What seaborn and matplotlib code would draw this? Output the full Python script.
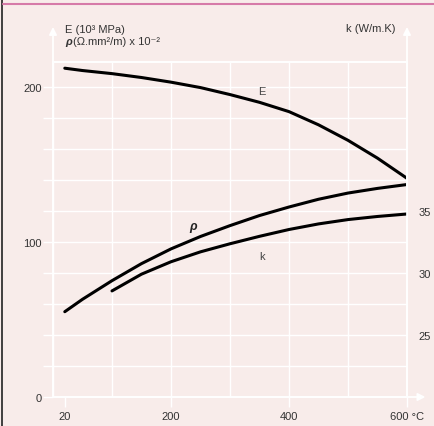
import matplotlib
matplotlib.use('Agg')
import matplotlib.pyplot as plt
from matplotlib.lines import Line2D
import seaborn as sns
import pandas as pd

# values
temps_E = [20, 50, 100, 150, 200, 250, 300, 350, 400, 450, 500, 550, 600]
E_vals = [212, 210.5, 208.5, 206, 203, 199.5, 195, 190, 184, 175.5, 165.5, 154, 141]

temps_rho = [20, 50, 100, 150, 200, 250, 300, 350, 400, 450, 500, 550, 600]
rho_vals = [55, 63, 75, 86, 95.5, 103.5, 110.5, 117, 122.5, 127.5, 131.5, 134.5, 137]

temps_k = [100, 150, 200, 250, 300, 350, 400, 450, 500, 550, 600]
k_vals = [28.55, 29.9, 30.9, 31.7, 32.35, 32.95, 33.5, 33.95, 34.3, 34.55, 34.75]

x_grid = [0, 100, 200, 300, 400, 500, 600]
x_ticks = [20, 200, 400, 600]
x_labels = ['20', '200', '400', '600 °C']
y_grid = list(range(0, 201, 20))
y_labels = {0: '0', 100: '100', 200: '200'}
k_ticks = [25, 30, 35]

bg = '#f8ecea'
txt = '#333333'
sns.set_theme(style='darkgrid', rc={'axes.facecolor': bg, 'figure.facecolor': bg,
                                    'grid.color': 'white', 'grid.linewidth': 1.0,
                                    'axes.edgecolor': 'white'})
plt.rcParams['font.family'] = ['Liberation Sans', 'DejaVu Sans']

fig = plt.figure(figsize=(4.34, 4.27), dpi=100)
ax = fig.add_axes([53/434, 29/427, 354/434, 335/427])

# vertical grid drawn by hand so the labelled ticks can sit elsewhere
for gx in x_grid:
    ax.axvline(gx, color='white', lw=1.0, zorder=0.5)

df_E = pd.DataFrame({'T': temps_E, 'v': E_vals})
df_rho = pd.DataFrame({'T': temps_rho, 'v': rho_vals})
sns.lineplot(data=df_E, x='T', y='v', ax=ax, color='black', lw=2.2)
sns.lineplot(data=df_rho, x='T', y='v', ax=ax, color='black', lw=2.2)

ax.set_xlim(0, 600)
ax.set_ylim(0, 216)
ax.set_xlabel('')
ax.set_ylabel('')
ax.set_xticks(x_ticks)
ax.set_xticklabels(x_labels)
ax.set_yticks(y_grid)
ax.set_yticklabels([y_labels.get(v, '') for v in y_grid])
ax.grid(False, axis='x')
ax.grid(True, axis='y')
ax.tick_params(axis='x', length=7, width=1, color='white', pad=3,
               labelsize=8, labelcolor=txt, bottom=True)
ax.tick_params(axis='y', length=7, width=1, color='white', pad=1,
               labelsize=8, labelcolor=txt, left=True)

ax2 = ax.twinx()
df_k = pd.DataFrame({'T': temps_k, 'k': k_vals})
sns.lineplot(data=df_k, x='T', y='k', ax=ax2, color='black', lw=2.2)
ax2.set_ylim(20, 47)
ax2.set_yticks(k_ticks)
ax2.set_ylabel('')
ax2.grid(False)
ax2.tick_params(axis='y', length=0, pad=8, labelsize=8, labelcolor=txt)

# curve labels
ax.text(354, 197, 'E', fontsize=8, color='#444444', ha='center', va='center')
ax.text(237, 110, 'ρ', fontsize=9, color='#222222', ha='center', va='center',
        style='italic', fontweight='bold')
ax.text(354, 91, 'k', fontsize=8, color='#444444', ha='center', va='center')

# white axis arrows
arrow = dict(arrowstyle='-|>', color='white', lw=1.3, mutation_scale=11)
ax.annotate('', xy=(0, 1.113), xytext=(0, 0.99), xycoords='axes fraction',
            arrowprops=arrow, annotation_clip=False)
ax.annotate('', xy=(1, 1.113), xytext=(1, 0.99), xycoords='axes fraction',
            arrowprops=arrow, annotation_clip=False)
ax.annotate('', xy=(1.06, 0), xytext=(0.99, 0), xycoords='axes fraction',
            arrowprops=arrow, annotation_clip=False)

# header texts
fig.text(65/434, 1 - 30/427, 'E (10³ MPa)', fontsize=8, color=txt, va='center')
fig.text(65/434, 1 - 42/427, 'ρ', fontsize=8, color=txt, va='center',
         fontweight='bold', style='italic')
fig.text(73/434, 1 - 42/427, '(Ω.mm²/m) x 10⁻²', fontsize=8, color=txt, va='center')
fig.text(395/434, 1 - 29/427, 'k (W/m.K)', fontsize=8, color=txt, va='center', ha='right')

# frame lines
fig.add_artist(Line2D([2/434, 2/434], [0, 1], color='#222222', lw=1.2))
fig.add_artist(Line2D([3/434, 1], [1 - 4.5/427, 1 - 4.5/427], color='#d67aa8', lw=1.5))

fig.savefig('out.png', dpi=100, facecolor=bg)
